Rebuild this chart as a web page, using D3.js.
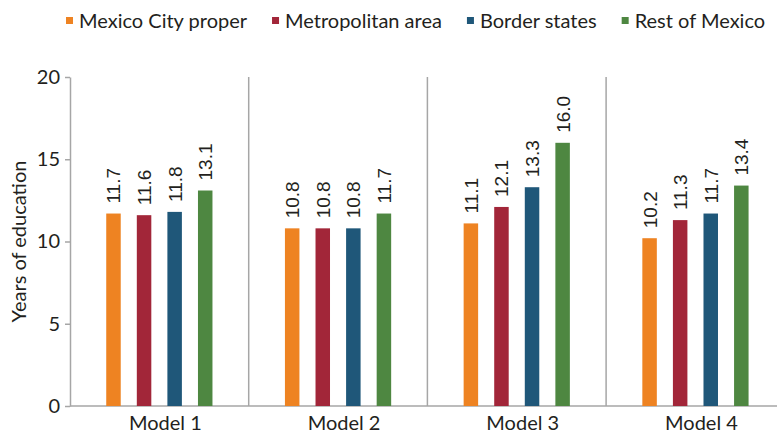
<!DOCTYPE html>
<html><head><meta charset="utf-8">
<script src="https://cdn.jsdelivr.net/npm/d3@7"></script>
<style>body{margin:0;background:#fff}svg{display:block}</style>
</head><body><svg id="c" width="777" height="435"></svg>
<script>
const models = ["Model 1","Model 2","Model 3","Model 4"];
const seriesNames = ["Mexico City proper","Metropolitan area","Border states","Rest of Mexico"];
const seriesColors = ["#EE8322","#A22639","#1F5779","#4E8741"];
const mexicoCity = [11.7, 10.8, 11.1, 10.2];
const metroArea = [11.6, 10.8, 12.1, 11.3];
const borderStates = [11.8, 10.8, 13.3, 11.7];
const restOfMexico = [13.1, 11.7, 16.0, 13.4];
const yTicks = [0,5,10,15,20];
const yTitle = "Years of education";

const values = [mexicoCity, metroArea, borderStates, restOfMexico];
const svg = d3.select("#c");
const labelFont = "Lato, 'Open Sans', sans-serif";
const textColor = "#231F20";
const x0 = d3.scaleBand().domain(models).range([70, 70 + 4*178.7]).padding(0);
const x1 = d3.scaleBand().domain(seriesNames).range([0, x0.bandwidth()]).paddingInner(0.526).paddingOuter(1.185);
const y = d3.scaleLinear().domain([0,20]).range([406,77]);
const axisColor = "#A6A6A6";

// separators
svg.append("g").selectAll("line").data(models.slice(1).concat(["__end"])).join("line")
  .attr("x1", d => d==="__end" ? x0.range()[1] : x0(d))
  .attr("x2", d => d==="__end" ? x0.range()[1] : x0(d))
  .attr("y1", y(20)).attr("y2", y(0))
  .attr("stroke", axisColor).attr("stroke-width", 1.5);

// y axis
const ya = svg.append("g").attr("transform","translate(70,0)")
  .call(d3.axisLeft(y).tickValues(yTicks).tickSize(5).tickPadding(5).tickSizeOuter(0));
ya.select(".domain").attr("stroke", axisColor).attr("stroke-width",1.5);
ya.selectAll(".tick line").attr("stroke", axisColor).attr("stroke-width",1.5);
ya.selectAll(".tick text").attr("font-family", labelFont).attr("font-size", 20).attr("fill",textColor);

// x axis line
svg.append("line").attr("x1",70).attr("x2",777).attr("y1",y(0)).attr("y2",y(0))
  .attr("stroke",axisColor).attr("stroke-width",1.5);

// category labels
svg.append("g").selectAll("text").data(models).join("text")
  .attr("x", d => x0(d) + x0.bandwidth()/2 + 6)
  .attr("y", 430)
  .attr("text-anchor","middle")
  .attr("font-family", labelFont).attr("font-size", 20).attr("fill",textColor)
  .text(d => d);

// bars
const g = svg.append("g");
models.forEach((m, i) => {
  seriesNames.forEach((s, j) => {
    const v = values[j][i];
    const bx = x0(m) + x1(s);
    g.append("rect").attr("x", bx).attr("width", x1.bandwidth())
      .attr("y", y(v)).attr("height", y(0) - y(v))
      .attr("fill", seriesColors[j]);
    const cx = bx + x1.bandwidth()/2;
    g.append("text")
      .attr("transform", `translate(${cx + 7},${y(v) - 10}) rotate(-90)`)
      .attr("font-family","'Liberation Sans', Arial, sans-serif").attr("font-size", 19)
      .attr("fill",textColor)
      .text(v.toFixed(1));
  });
});

// y title
svg.append("text").attr("transform", `translate(26,${(y(0)+y(20))/2}) rotate(-90)`)
  .attr("text-anchor","middle").attr("font-family", labelFont).attr("font-size", 20).attr("fill",textColor)
  .text(yTitle);

// legend
const lg = svg.append("g");
let lx = 66;
seriesNames.forEach((s, j) => {
  lg.append("rect").attr("x", lx).attr("y", 17).attr("width", 7).attr("height", 7).attr("fill", seriesColors[j]);
  const t = lg.append("text").attr("x", lx + 13).attr("y", 28)
    .attr("font-family", labelFont).attr("font-size", 20).attr("fill",textColor).text(s);
  lx += 13 + t.node().getComputedTextLength() + 25;
});
</script></body></html>
